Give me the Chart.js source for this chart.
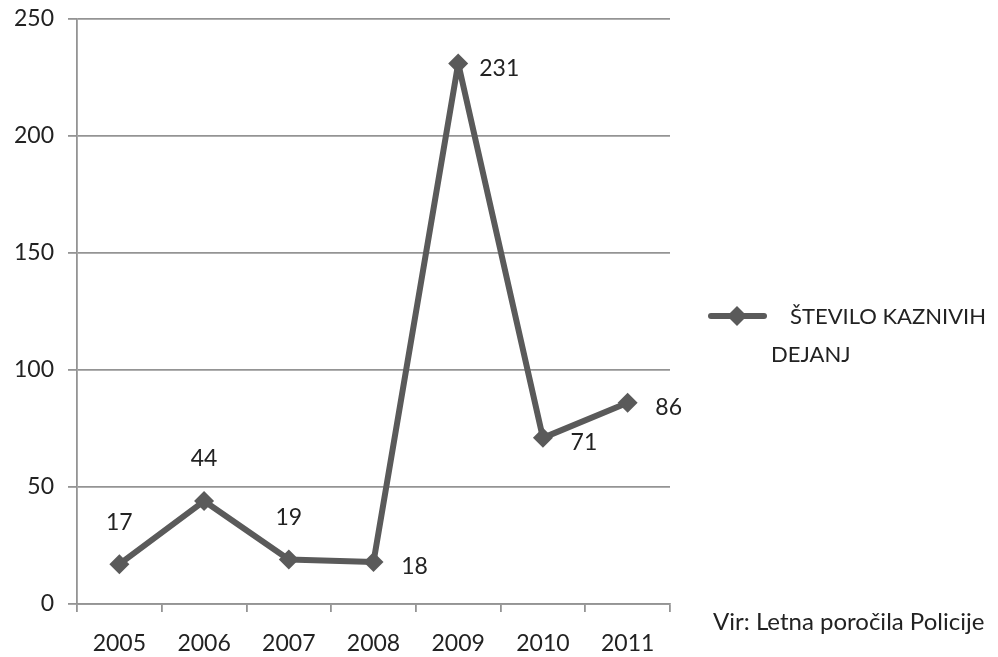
<!DOCTYPE html>
<html>
<head>
<meta charset="utf-8">
<script src="https://cdn.jsdelivr.net/npm/chart.js@4"></script>
<style>
    html, body { margin: 0; padding: 0; background: #fff; }
    #wrap { width: 998px; height: 657px; position: relative; }
</style>
</head>
<body>
<div id="wrap"><canvas id="myChart"></canvas></div>
<script>
// values
var years = ["2005", "2006", "2007", "2008", "2009", "2010", "2011"];
var cases = [17, 44, 19, 18, 231, 71, 86];
var labelSide = ["above", "above", "above", "right", "right", "right", "right"];
var seriesName = ["ŠTEVILO KAZNIVIH", "DEJANJ"];
var sourceText = "Vir: Letna poročila Policije";

var fontFamily = "Lato, 'Noto Sans', sans-serif";
var lineColor = "#5a5a5a";
var gridColor = "#949494";

// numbers next to each point + legend + source note
var extras = {
    id: 'extras',
    afterDatasetsDraw(chart) {
        const ctx = chart.ctx;
        const meta = chart.getDatasetMeta(0);
        ctx.save();
        ctx.font = "23px " + fontFamily;
        ctx.fillStyle = "#222";
        ctx.textBaseline = "middle";
        ctx.textAlign = "center";
        meta.data.forEach((pt, i) => {
            let x = pt.x, y = pt.y;
            if (labelSide[i] == "above") {
                y -= 42;
            } else {
                x += 41;
                y += 5;
            }
            ctx.fillText(String(cases[i]), x, y);
        });

        // legend
        ctx.strokeStyle = lineColor;
        ctx.lineWidth = 6;
        ctx.lineCap = "round";
        ctx.beginPath();
        ctx.moveTo(711, 316);
        ctx.lineTo(764, 316);
        ctx.stroke();
        ctx.fillStyle = lineColor;
        ctx.beginPath();
        ctx.moveTo(737, 306);
        ctx.lineTo(747, 316);
        ctx.lineTo(737, 326);
        ctx.lineTo(727, 316);
        ctx.closePath();
        ctx.fill();

        ctx.fillStyle = "#222";
        ctx.textAlign = "left";
        ctx.font = "22px " + fontFamily;
        ctx.fillText(seriesName[0], 790, 317);
        ctx.fillText(seriesName[1], 771, 355);

        ctx.font = "24px " + fontFamily;
        ctx.fillText(sourceText, 713, 622);
        ctx.restore();
    }
};

new Chart("myChart", {
    type: "line",
    data: {
        labels: years,
        datasets: [{
            label: seriesName.join(" "),
            data: cases,
            borderColor: lineColor,
            backgroundColor: lineColor,
            borderWidth: 6,
            borderJoinStyle: "round",
            pointStyle: "rectRot",
            pointRadius: 10,
            pointHoverRadius: 10,
            pointBackgroundColor: lineColor,
            pointBorderWidth: 0,
            tension: 0
        }]
    },
    options: {
        responsive: true,
        maintainAspectRatio: false,
        animation: false,
        layout: {
            padding: { left: 0, right: 328, top: 19, bottom: 0 }
        },
        plugins: {
            legend: { display: false },
            tooltip: { enabled: false }
        },
        scales: {
            x: {
                offset: true,
                grid: {
                    offset: true,
                    drawOnChartArea: false,
                    drawTicks: true,
                    tickLength: 8,
                    color: gridColor,
                    lineWidth: 1.8
                },
                border: { color: gridColor, width: 1.8 },
                ticks: {
                    color: "#222",
                    font: { family: fontFamily, size: 23 },
                    padding: 18,
                    maxRotation: 0
                },
                afterFit(scale) {
                    scale.height = 53;
                    scale.paddingLeft = 0;
                    scale.paddingRight = 0;
                }
            },
            y: {
                min: 0,
                max: 250,
                ticks: {
                    stepSize: 50,
                    color: "#222",
                    font: { family: fontFamily, size: 23 },
                    padding: 14
                },
                grid: {
                    color: gridColor,
                    lineWidth: 1.8,
                    tickLength: 9
                },
                border: { color: gridColor, width: 1.8 },
                afterFit(scale) {
                    scale.width = 77;
                    scale.paddingTop = 0;
                    scale.paddingBottom = 0;
                }
            }
        }
    },
    plugins: [extras]
});
</script>
</body>
</html>
